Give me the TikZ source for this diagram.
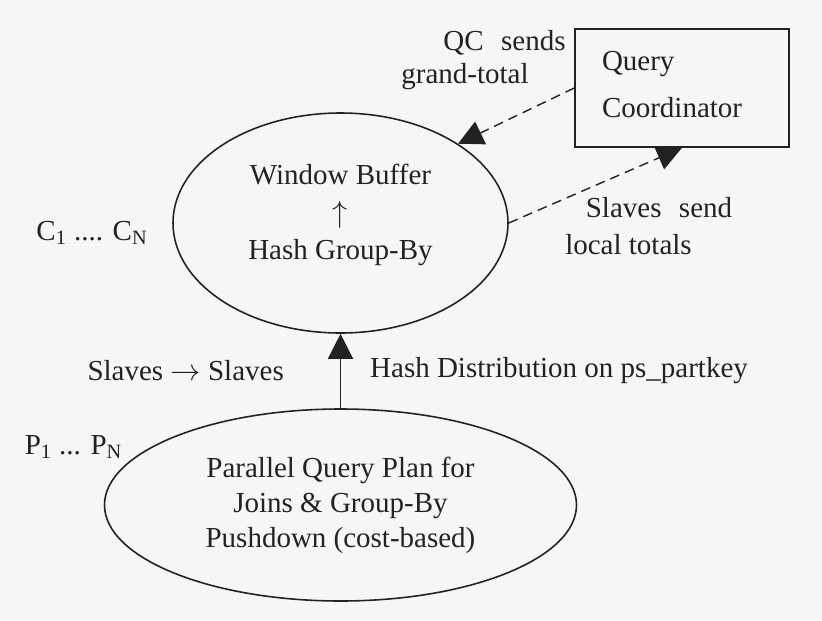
\documentclass[tikz,border=0pt]{standalone}
\usepackage{fontspec}
\setmainfont{Liberation Serif}
\usetikzlibrary{arrows.meta,positioning,shapes.geometric}
\definecolor{bgpaper}{HTML}{F6F6F6}
\definecolor{ink}{HTML}{222222}

\begin{document}
\begin{tikzpicture}[
    txt/.style={font=\fontsize{16.5}{21}\selectfont, text=ink, inner sep=0pt},
    oval/.style={ellipse, draw=ink, line width=0.9pt, inner sep=0pt, align=center, font=\fontsize{16.5}{21.3}\selectfont, text=ink},
    qcbox/.style={rectangle, draw=ink, line width=0.9pt, minimum width=4.28cm, minimum height=2.36cm, inner xsep=0.54cm, text width=3.2cm, align=left, font=\fontsize{16.5}{20}\selectfont, text=ink},
    arr/.style={-{Triangle[length=0.5cm, width=0.5cm]}, line width=0.8pt, color=ink},
    dsh/.style={arr, dash pattern=on 5.5pt off 3.5pt}
]

\fill[bgpaper] (0,0) rectangle (16.44,-12.4);
\useasboundingbox (0,0) rectangle (16.44,-12.4);

% operators
\node[oval, minimum width=6.7cm, minimum height=4.4cm] (gb) at (6.81,-4.46) {Window Buffer\\$\uparrow$\\Hash Group-By\\[-8.7pt]\mbox{}};
\node[oval, minimum width=9.44cm, minimum height=3.84cm, font=\fontsize{16.5}{19.9}\selectfont] (plan) at (6.81,-10.1) {Parallel Query Plan for\\Joins \& Group-By\\Pushdown (cost-based)};
\node[qcbox] (qc) at (13.64,-1.76) {Query\\[6.8pt]Coordinator\\[-16pt]\mbox{}};

% process labels
\node[txt] (cn) at (1.84,-4.66) {C\textsubscript{1} .... C\textsubscript{N}};
\node[txt] (pn) at (1.47,-8.94) {P\textsubscript{1} ... P\textsubscript{N}};

% repartitioning
\draw[arr] (plan.north) -- (gb.south)
    node[txt, midway, right=0.58cm] (hd) {Hash Distribution on ps\_partkey}
    node[txt, midway, left=1.12cm] (ss) {Slaves $\rightarrow$ Slaves};

% totals exchange
\draw[dsh] (qc.west) -- (gb.34);
\draw[dsh] (gb.east) -- (qc.south);
\node[txt] (qc1) at (10.09,-0.86) {QC\hspace{0.6em}sends};
\node[txt] (qc2) at (9.3,-1.54) {grand-total};
\node[txt] (sl1) at (13.18,-4.16) {Slaves\hspace{0.6em}send};
\node[txt] (sl2) at (12.57,-4.9) {local totals};

\end{tikzpicture}
\end{document}
